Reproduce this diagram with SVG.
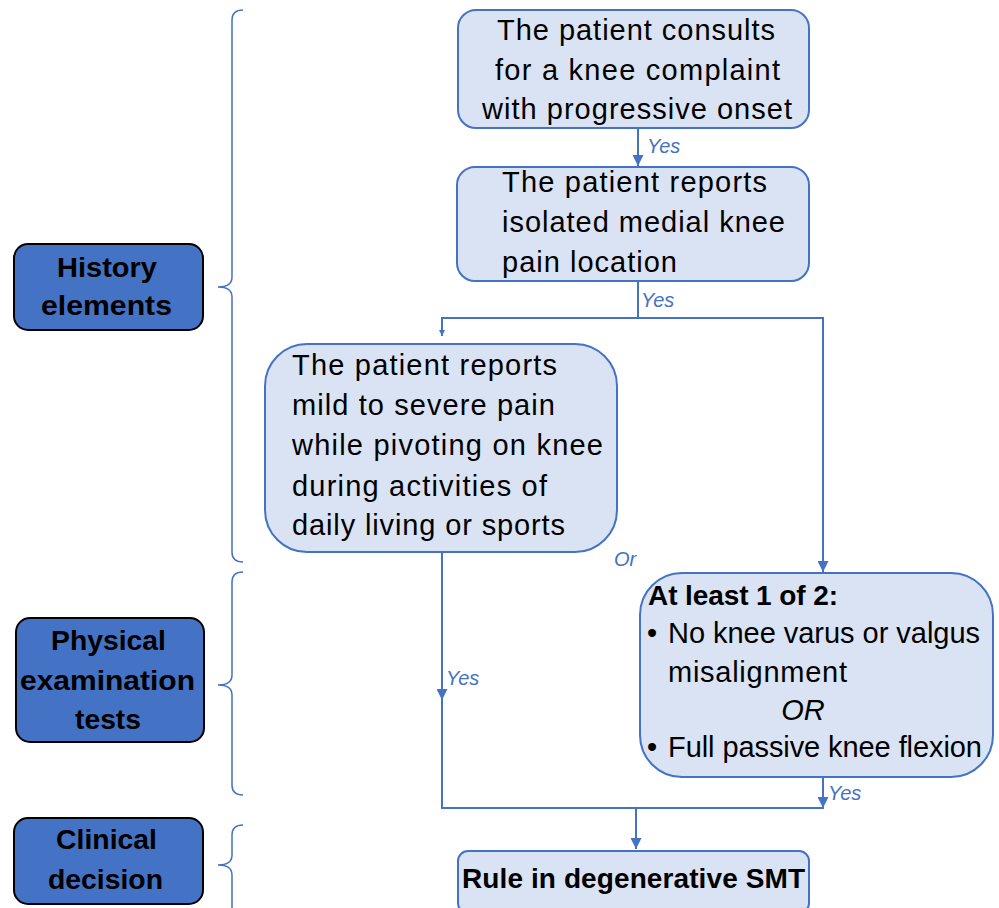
<svg xmlns="http://www.w3.org/2000/svg" width="999" height="908" viewBox="0 0 999 908">
<style>
.nb{fill:#DAE3F3;stroke:#4472C4;stroke-width:2}
.lb{fill:#4472C4;stroke:#000;stroke-width:2}
.t{font-family:"Liberation Sans",Arial,sans-serif;font-size:29px;fill:#000}
.b{font-weight:bold;font-size:28px}
.y{font-family:"Liberation Sans",Arial,sans-serif;font-size:20px;font-style:italic;fill:#4472C4}
.c{fill:none;stroke:#4472C4;stroke-width:2}
.br{fill:none;stroke:#4472C4;stroke-width:1.5}
</style>
<defs>
<marker id="ah" viewBox="0 0 10 10" refX="10" refY="5" markerWidth="6" markerHeight="6" orient="auto" markerUnits="userSpaceOnUse"><path d="M0,0 L10,5 L0,10 z" fill="#4472C4"/></marker>
<marker id="ahb" viewBox="0 0 10 10" refX="10" refY="5" markerWidth="11" markerHeight="11" orient="auto" markerUnits="userSpaceOnUse"><path d="M0,0 L10,5 L0,10 z" fill="#4472C4"/></marker>
</defs>
<g id="history">
<rect class="lb" x="14" y="244" width="189" height="86" rx="14"/>
<text class="t b" x="57" y="277" textLength="100" lengthAdjust="spacingAndGlyphs">History</text>
<text class="t b" x="41" y="315" textLength="131" lengthAdjust="spacingAndGlyphs">elements</text>
</g>
<g id="physical">
<rect class="lb" x="16" y="618" width="188" height="124" rx="14"/>
<text class="t b" x="51" y="650" textLength="115" lengthAdjust="spacingAndGlyphs">Physical</text>
<text class="t b" x="20" y="690" textLength="175" lengthAdjust="spacingAndGlyphs">examination</text>
<text class="t b" x="75" y="729" textLength="66" lengthAdjust="spacingAndGlyphs">tests</text>
</g>
<g id="clinical">
<rect class="lb" x="14" y="818" width="189" height="86" rx="14"/>
<text class="t b" x="56" y="849" textLength="101" lengthAdjust="spacingAndGlyphs">Clinical</text>
<text class="t b" x="48" y="889" textLength="115" lengthAdjust="spacingAndGlyphs">decision</text>
</g>
<g id="brackets">
<path class="br" d="M243,10 Q232,10 232,20 L232,277 Q232,287 218,287 Q232,287 232,297 L232,552 Q232,562 243,562"/>
<path class="br" d="M243,572 Q232,572 232,582 L232,675 Q232,685 218,685 Q232,685 232,695 L232,785 Q232,795 243,795"/>
<path class="br" d="M243,825 Q232,825 232,835 L232,855 Q232,865 218,865 Q232,865 232,875 L232,908"/>
</g>
<g id="n1">
<rect class="nb" x="458" y="10" width="351" height="118" rx="18"/>
<text class="t" x="497" y="40" textLength="278" lengthAdjust="spacing">The patient consults</text>
<text class="t" x="495" y="80" textLength="285" lengthAdjust="spacing">for a knee complaint</text>
<text class="t" x="482" y="119" textLength="310" lengthAdjust="spacing">with progressive onset</text>
</g>
<g id="n2">
<rect class="nb" x="457" y="167" width="352" height="114" rx="18"/>
<text class="t" x="502" y="192" textLength="265" lengthAdjust="spacing">The patient reports</text>
<text class="t" x="502" y="232" textLength="283" lengthAdjust="spacing">isolated medial knee</text>
<text class="t" x="502" y="272" textLength="175" lengthAdjust="spacing">pain location</text>
</g>
<g id="n3">
<rect class="nb" x="265" y="344" width="352" height="208" rx="42"/>
<text class="t" x="292" y="375" textLength="265" lengthAdjust="spacing">The patient reports</text>
<text class="t" x="292" y="415" textLength="263" lengthAdjust="spacing">mild to severe pain</text>
<text class="t" x="292" y="455" textLength="311" lengthAdjust="spacing">while pivoting on knee</text>
<text class="t" x="292" y="496" textLength="255" lengthAdjust="spacing">during activities of</text>
<text class="t" x="292" y="535" textLength="273" lengthAdjust="spacing">daily living or sports</text>
</g>
<g id="n4">
<rect class="nb" x="640" y="573" width="353" height="204" rx="42"/>
<text class="t b" x="648" y="605" textLength="190" lengthAdjust="spacing">At least 1 of 2:</text>
<text class="t" x="647" y="643">•</text>
<text class="t" x="668" y="643" textLength="312" lengthAdjust="spacing">No knee varus or valgus</text>
<text class="t" x="668" y="682" textLength="179" lengthAdjust="spacing">misalignment</text>
<text class="t" x="803" y="720" font-style="italic" text-anchor="middle">OR</text>
<text class="t" x="647" y="757">•</text>
<text class="t" x="668" y="757" textLength="314" lengthAdjust="spacing">Full passive knee flexion</text>
</g>
<g id="n5">
<rect class="nb" x="458" y="851" width="351" height="62" rx="10"/>
<text class="t b" x="462" y="888" textLength="343" lengthAdjust="spacing">Rule in degenerative SMT</text>
</g>
<g id="connectors">
<line class="c" x1="638" y1="128" x2="638" y2="166" marker-end="url(#ahb)"/>
<text class="y" x="647" y="153">Yes</text>
<line class="c" x1="638" y1="281" x2="638" y2="318"/>
<text class="y" x="641" y="307">Yes</text>
<line class="c" x1="441" y1="318" x2="824" y2="318"/>
<line class="c" x1="442" y1="318" x2="442" y2="336" marker-end="url(#ah)"/>
<line class="c" x1="823" y1="318" x2="823" y2="572" marker-end="url(#ahb)"/>
<text class="y" x="614" y="566">Or</text>
<line class="c" x1="442" y1="552" x2="442" y2="700" marker-end="url(#ahb)"/>
<line class="c" x1="442" y1="698" x2="442" y2="809"/>
<text class="y" x="446" y="685">Yes</text>
<line class="c" x1="823" y1="777" x2="823" y2="808" marker-end="url(#ahb)"/>
<text class="y" x="828" y="800">Yes</text>
<line class="c" x1="442" y1="808" x2="824" y2="808"/>
<line class="c" x1="636" y1="808" x2="636" y2="849" marker-end="url(#ahb)"/>
</g>
</svg>
